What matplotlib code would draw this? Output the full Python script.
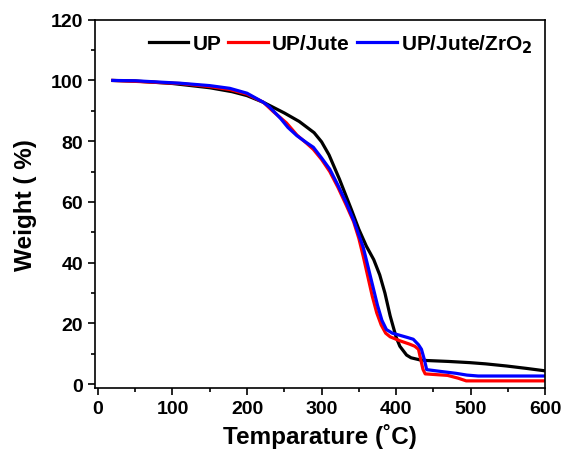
import matplotlib
matplotlib.use('Agg')
import matplotlib.pyplot as plt
from matplotlib.ticker import MultipleLocator

plt.rcParams['font.family'] = ['Liberation Sans', 'DejaVu Sans']
plt.rcParams['font.weight'] = 'bold'
plt.rcParams['mathtext.default'] = 'bf'

# ========== TGA DATA ==========
up_t = [20, 50, 100, 150, 180, 200, 222, 250, 270, 290, 300, 310, 324, 340, 350, 360, 370,
        378, 385, 392, 400, 405, 414, 420, 432, 441, 470, 499, 520, 548, 575, 600]
up_w = [100, 99.8, 99.0, 97.6, 96.3, 95.0, 92.8, 89.3, 86.5, 82.8, 79.8, 75.5, 67.5, 57.5, 51.0, 45.5, 41.0,
        36.0, 30.0, 22.5, 15.5, 12.5, 9.6, 8.7, 8.0, 7.8, 7.5, 7.1, 6.7, 6.0, 5.2, 4.4]

jute_t = [20, 50, 110, 150, 177, 200, 222, 235, 253, 267, 280, 289, 300, 311, 322, 333,
          343, 350, 356, 362, 368, 374, 380, 386, 392, 405, 418, 425, 430, 433, 436, 439,
          469, 483, 494, 600]
jute_w = [100, 99.7, 99.0, 98.0, 97.0, 95.5, 92.8, 89.8, 86.0, 82.0, 79.3, 77.3, 74.0, 70.0, 64.8, 59.0,
          53.5, 48.0, 42.0, 35.5, 29.0, 23.5, 19.5, 16.8, 15.6, 14.3, 13.2, 12.5, 11.5, 8.2, 4.9, 3.4,
          2.9, 2.0, 1.1, 1.1]

zro2_t = [20, 50, 110, 150, 177, 200, 222, 230, 245, 255, 267, 280, 289, 300, 311, 322,
          333, 343, 356, 362, 368, 375, 381, 387, 395, 405, 415, 423, 430, 434, 438, 441,
          460, 480, 495, 510, 600]
zro2_w = [100, 99.9, 99.1, 98.3, 97.4, 95.8, 92.8, 91.3, 87.5, 84.5, 81.8, 79.5, 78.0, 74.5, 70.8, 65.5,
          59.8, 54.0, 45.0, 39.0, 33.0, 26.0, 21.0, 18.0, 16.8, 16.1, 15.4, 14.8, 13.0, 11.5, 8.0, 4.8,
          4.2, 3.6, 3.0, 2.7, 2.7]

labels = ['UP', 'UP/Jute', 'UP/Jute/ZrO$_2$']
colors = ['black', 'red', 'blue']

fig = plt.figure(figsize=(5.65, 4.60), dpi=100)
ax = fig.add_axes([0.168, 0.154, 0.797, 0.801])

ax.plot(up_t, up_w, color=colors[0], linewidth=2.3, label=labels[0])
ax.plot(jute_t, jute_w, color=colors[1], linewidth=2.3, label=labels[1])
ax.plot(zro2_t, zro2_w, color=colors[2], linewidth=2.3, label=labels[2])

ax.set_xlim(-4, 600)
ax.set_ylim(-1.3, 120)
ax.xaxis.set_major_locator(MultipleLocator(100))
ax.xaxis.set_minor_locator(MultipleLocator(50))
ax.yaxis.set_major_locator(MultipleLocator(20))
ax.yaxis.set_minor_locator(MultipleLocator(10))
ax.tick_params(which='major', direction='out', length=5, width=1.2, labelsize=14)
ax.tick_params(which='minor', direction='out', length=3, width=1.2)
for s in ax.spines.values():
    s.set_linewidth(1.2)

ax.set_xlabel('Temparature (\u02daC)', fontsize=17.5, fontweight='bold', labelpad=4)
ax.set_ylabel('Weight ( %)', fontsize=17.5, fontweight='bold', labelpad=10)

ax.legend(loc='upper right', ncol=3, frameon=False, fontsize=15, handlelength=1.9,
          handletextpad=0.2, columnspacing=0.35, borderaxespad=0.2, bbox_to_anchor=(1.0, 1.0))

plt.savefig('out.png', dpi=100)
